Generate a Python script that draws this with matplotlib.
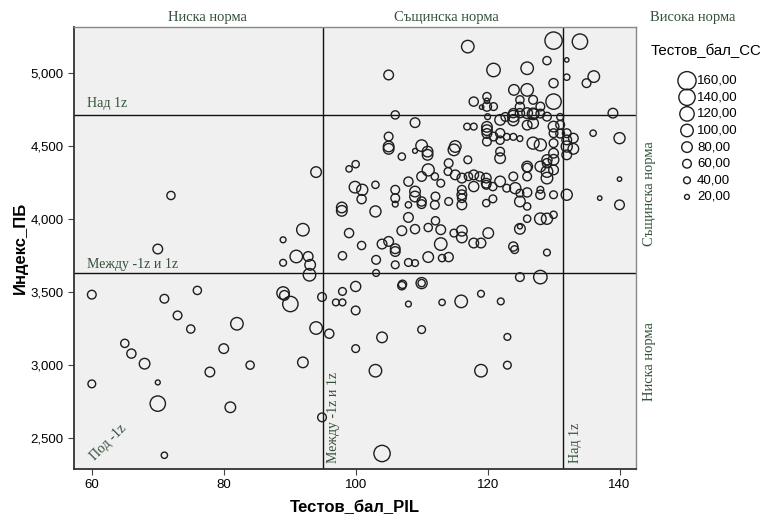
import numpy as np
import matplotlib
matplotlib.use("Agg")
import matplotlib.pyplot as plt
from matplotlib.ticker import FuncFormatter

# Тестов_бал_PIL, Индекс_ПБ, Тестов_бал_СС (bubble size)
pil = [60.0, 70.0, 72.0, 94.0, 92.0, 89.0, 91.0, 92.8, 89.0, 93.1,
       93.0, 60.0, 71.0, 73.0, 75.0, 76.0, 65.0, 66.0, 68.0, 70.0,
       70.0, 71.0, 77.9, 80.0, 82.0, 84.0, 81.0, 89.0, 89.2, 90.1,
       92.0, 94.0, 94.9, 94.9, 96.0, 97.0, 98.0, 98.0, 100.0, 100.0,
       100.0, 104.0, 103.0, 104.0, 107.0, 107.1, 108.0, 110.0, 110.0, 110.0,
       113.1, 116.0, 119.0, 119.0, 122.0, 123.0, 123.0, 124.9, 128.0, 98.0,
       103.1, 103.1, 106.0, 106.0, 108.0, 109.0, 111.0, 113.1, 114.1, 124.1,
       129.0, 105.0, 107.0, 109.0, 110.9, 110.9, 114.9, 114.1, 117.0, 100.0,
       99.0, 99.9, 101.0, 100.9, 103.0, 106.0, 106.0, 106.0, 108.0, 109.0,
       109.0, 108.0, 110.0, 110.0, 112.0, 111.0, 112.1, 112.0, 112.9, 114.1,
       114.0, 115.1, 116.1, 116.1, 116.1, 116.1, 116.1, 117.1, 117.9, 97.9,
       97.9, 103.0, 99.0, 100.9, 104.0, 105.0, 106.0, 107.0, 108.0, 109.0,
       111.0, 112.1, 112.9, 112.9, 114.9, 116.1, 116.1, 117.9, 110.0, 110.0,
       105.0, 117.0, 120.9, 126.0, 130.0, 134.0, 129.0, 132.0, 132.0, 136.1,
       135.0, 130.0, 130.0, 124.0, 126.0, 124.9, 126.9, 128.0, 117.9, 119.9,
       119.9, 119.9, 120.9, 119.1, 120.0, 121.9, 123.9, 124.9, 126.0, 126.9,
       126.9, 129.0, 130.0, 131.0, 130.0, 132.0, 133.0, 132.0, 136.0, 139.0,
       140.0, 140.0, 137.0, 140.0, 132.0, 132.0, 132.0, 130.0, 130.0, 126.9,
       128.0, 130.0, 129.0, 130.0, 129.0, 126.0, 126.0, 128.0, 126.0, 123.9,
       128.0, 130.0, 124.9, 124.9, 122.9, 121.9, 121.9, 133.0, 129.0, 129.0,
       118.8, 119.8, 119.8, 119.8, 120.8, 124.2, 126.0, 120.8, 119.8, 126.0,
       128.0, 129.0, 130.0, 124.9, 124.9, 120.1, 119.0, 123.9, 124.9, 123.9,
       122.7, 131.0, 119.9, 119.9, 119.9, 123.9, 126.0, 131.0, 122.9, 123.9,
       124.9, 121.9, 116.9, 117.9, 121.9, 120.9, 119.9, 115.1, 105.0, 105.0,
       106.0, 109.0, 117.9, 121.9, 126.0, 128.0, 127.0, 128.0]
pb = [3.482, 3.794, 4.160, 4.320, 3.926, 3.857, 3.743, 3.743, 3.700, 3.686,
      3.618, 2.872, 3.454, 3.340, 3.247, 3.511, 3.149, 3.079, 3.010, 2.882,
      2.737, 2.384, 2.953, 3.113, 3.283, 3.000, 2.712, 3.493, 3.477, 3.418,
      3.019, 3.254, 3.466, 2.643, 3.215, 3.429, 3.429, 3.504, 3.538, 3.374,
      3.113, 3.190, 2.962, 2.396, 3.543, 3.553, 3.418, 3.561, 3.561, 3.243,
      3.429, 3.436, 3.488, 2.962, 3.436, 3.193, 3.000, 3.602, 3.602, 3.748,
      3.720, 3.630, 3.777, 3.686, 3.702, 3.698, 3.739, 3.732, 3.739, 3.790,
      3.770, 4.479, 4.426, 4.465, 4.438, 4.460, 4.472, 4.381, 4.404, 4.374,
      4.342, 4.217, 4.199, 4.135, 4.233, 4.199, 4.142, 4.101, 4.255, 4.187,
      4.153, 4.096, 4.119, 4.290, 4.290, 4.335, 4.153, 4.096, 4.244, 4.119,
      4.324, 4.301, 4.279, 4.199, 4.165, 4.142, 4.096, 4.290, 4.221, 4.078,
      4.055, 4.051, 3.903, 3.818, 3.828, 3.846, 3.796, 3.919, 4.010, 3.930,
      3.941, 3.987, 3.926, 3.828, 3.903, 3.919, 3.873, 3.835, 4.501, 4.101,
      4.984, 5.178, 5.018, 5.030, 5.219, 5.212, 5.082, 5.087, 4.969, 4.973,
      4.928, 4.928, 4.802, 4.882, 4.882, 4.814, 4.814, 4.768, 4.802, 4.836,
      4.807, 4.768, 4.768, 4.764, 4.699, 4.677, 4.723, 4.723, 4.723, 4.718,
      4.654, 4.699, 4.631, 4.643, 4.586, 4.586, 4.552, 4.540, 4.586, 4.723,
      4.552, 4.272, 4.142, 4.096, 4.165, 4.495, 4.438, 4.518, 4.449, 4.518,
      4.506, 4.404, 4.381, 4.335, 4.324, 4.358, 4.350, 4.358, 4.290, 4.290,
      4.199, 4.165, 4.176, 4.119, 4.210, 4.460, 4.415, 4.479, 4.404, 4.279,
      4.290, 4.279, 4.244, 4.233, 4.221, 4.210, 4.181, 4.137, 4.108, 4.001,
      4.001, 4.001, 4.028, 3.948, 3.932, 3.903, 3.835, 3.811, 4.766, 4.702,
      4.697, 4.697, 4.629, 4.607, 4.584, 4.675, 4.641, 4.583, 4.561, 4.561,
      4.549, 4.538, 4.631, 4.631, 4.586, 4.563, 4.529, 4.495, 4.563, 4.495,
      4.711, 4.658, 4.301, 4.256, 4.085, 4.165, 4.720, 4.720]
cc = [60, 70, 55, 80, 100, 30, 100, 70, 40, 80,
      100, 50, 60, 60, 55, 55, 55, 65, 80, 20,
      130, 35, 70, 70, 100, 55, 80, 100, 70, 130,
      80, 100, 60, 60, 65, 40, 40, 50, 75, 60,
      50, 80, 100, 140, 55, 55, 30, 85, 45, 50,
      35, 100, 40, 100, 40, 40, 50, 60, 110, 55,
      60, 40, 70, 50, 50, 40, 80, 45, 65, 50,
      40, 80, 45, 20, 80, 80, 90, 60, 50, 45,
      35, 90, 85, 65, 45, 60, 60, 30, 65, 80,
      80, 35, 65, 70, 45, 95, 60, 60, 50, 50,
      50, 70, 70, 60, 70, 60, 70, 55, 75, 80,
      80, 85, 65, 55, 70, 70, 70, 70, 70, 65,
      55, 55, 70, 100, 50, 80, 80, 70, 90, 60,
      70, 100, 110, 100, 150, 130, 55, 15, 35, 90,
      60, 65, 130, 80, 100, 55, 60, 60, 65, 55,
      25, 65, 50, 15, 30, 80, 65, 65, 80, 90,
      80, 60, 80, 60, 60, 60, 70, 70, 35, 70,
      85, 15, 15, 70, 85, 85, 70, 60, 70, 95,
      95, 80, 65, 70, 90, 80, 60, 80, 60, 60,
      40, 50, 50, 80, 50, 60, 80, 80, 75, 90,
      65, 70, 70, 60, 55, 85, 65, 50, 45, 45,
      90, 85, 45, 20, 80, 80, 70, 65, 65, 90,
      60, 40, 80, 80, 70, 85, 70, 60, 40, 40,
      30, 55, 40, 40, 65, 60, 60, 90, 60, 80,
      55, 70, 70, 80, 45, 65, 70, 60]

# reference lines (-1z / 1z cut points)
x_low, x_high = 95.0, 131.5
y_low, y_high = 3.627, 4.713

x_ticks = [60, 80, 100, 120, 140]
y_ticks = [2.5, 3.0, 3.5, 4.0, 4.5, 5.0]
legend_vals = [160, 140, 120, 100, 80, 60, 40, 20]

green = '#33513a'
serif = 'Liberation Serif'
sans = 'Liberation Sans'


def bubble_area(v):
    # diameter grows roughly linearly with the value (px -> pt^2)
    d_px = 3.0 + 0.095 * np.asarray(v, dtype=float)
    return (d_px * 0.72) ** 2


def main():
    fig = plt.figure(figsize=(7.64, 5.20), dpi=100)
    ax = fig.add_axes([74 / 764, 1 - 469 / 520, (636 - 74) / 764, (469 - 27) / 520])
    ax.set_facecolor('#f0f0f0')

    ax.scatter(pil, pb, s=bubble_area(cc), facecolors='none',
               edgecolors='#1e1e1e', linewidths=1.0, zorder=3)

    ax.axvline(x_low, color='#111111', lw=1.0, zorder=2)
    ax.axvline(x_high, color='#111111', lw=1.0, zorder=2)
    ax.axhline(y_low, color='#111111', lw=1.0, zorder=2)
    ax.axhline(y_high, color='#111111', lw=1.0, zorder=2)

    ax.set_xlim(57.3, 142.5)
    ax.set_ylim(2.29, 5.312)
    ax.set_xticks(x_ticks)
    ax.set_yticks(y_ticks)
    ax.yaxis.set_major_formatter(FuncFormatter(lambda v, p: f"{v:.3f}".replace('.', ',')))
    ax.tick_params(direction='out', length=4, color='#444444', labelsize=9.5)
    for lab in ax.get_xticklabels() + ax.get_yticklabels():
        lab.set_fontfamily(sans)
    for side in ['top', 'right']:
        ax.spines[side].set_color('#888888')
        ax.spines[side].set_linewidth(1.0)
    for side in ['left', 'bottom']:
        ax.spines[side].set_color('#333333')
        ax.spines[side].set_linewidth(1.3)

    ax.set_xlabel('Тестов_бал_PIL', fontsize=12, fontweight='bold', family=sans, labelpad=6)
    ax.set_ylabel('Индекс_ПБ', fontsize=12, fontweight='bold', family=sans, labelpad=2)

    # zone labels inside the plot
    ax.text(59.3, y_high + 0.03, 'Над 1z', family=serif, fontsize=10, color=green, va='bottom')
    ax.text(59.3, y_low + 0.02, 'Между -1z и 1z', family=serif, fontsize=10, color=green, va='bottom')
    ax.text(62.5, 2.47, 'Под -1z', family=serif, fontsize=10, color=green,
            rotation=45, ha='center', va='center')
    ax.text(x_low + 1.7, 2.33, 'Между -1z и 1z', family=serif, fontsize=10, color=green,
            rotation=90, ha='center', va='bottom')
    ax.text(x_high + 1.8, 2.33, 'Над 1z', family=serif, fontsize=10, color=green,
            rotation=90, ha='center', va='bottom')

    # zone labels outside the plot
    fig.text(207 / 764, 1 - 17 / 520, 'Ниска норма', family=serif, fontsize=10.5, color=green,
             ha='center', va='center')
    fig.text(446 / 764, 1 - 17 / 520, 'Същинска норма', family=serif, fontsize=10.5, color=green,
             ha='center', va='center')
    fig.text(693 / 764, 1 - 17 / 520, 'Висока норма', family=serif, fontsize=10.5, color=green,
             ha='center', va='center')
    fig.text(649 / 764, 1 - 194 / 520, 'Същинска норма', family=serif, fontsize=10.5, color=green,
             rotation=90, ha='center', va='center')
    fig.text(649 / 764, 1 - 362 / 520, 'Ниска норма', family=serif, fontsize=10.5, color=green,
             rotation=90, ha='center', va='center')

    # bubble size legend
    lax = fig.add_axes([0, 0, 1, 1], facecolor='none')
    lax.set_xlim(0, 764)
    lax.set_ylim(520, 0)
    lax.axis('off')
    lax.text(651, 51, 'Тестов_бал_СС', family=sans, fontsize=10.8, va='center', ha='left')
    for i, v in enumerate(legend_vals):
        yy = 80.7 + i * 16.6
        lax.scatter([687], [yy], s=bubble_area(v), facecolors='none', edgecolors='#1e1e1e', linewidths=1.0)
        lax.text(697, yy, f"{v:.2f}".replace('.', ','), family=sans, fontsize=9.5,
                 va='center', ha='left')

    fig.savefig('out.png', dpi=100)


if __name__ == "__main__":
    main()
